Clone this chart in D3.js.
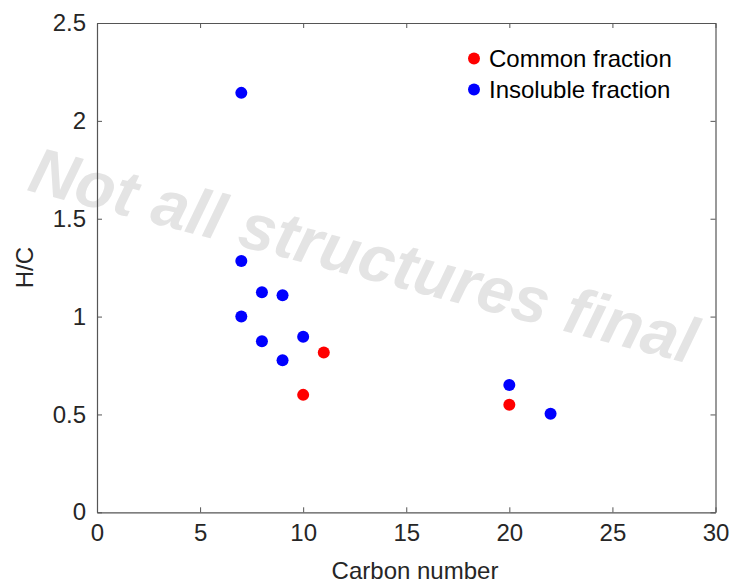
<!DOCTYPE html>
<html>
<head>
<meta charset="utf-8">
<script src="https://cdn.jsdelivr.net/npm/d3@7"></script>
<style>
  html, body { margin: 0; padding: 0; background: #fff; }
  svg { display: block; font-family: "Liberation Sans", Arial, Helvetica, sans-serif; }
</style>
</head>
<body>
<svg id="chart" width="734" height="585"></svg>
<script>
// ---- data ----
const commonX = [10, 11, 20];
const commonY = [0.60, 0.816, 0.549];
const insolubleX = [7, 7, 7, 8, 8, 9, 9, 10, 20, 22];
const insolubleY = [2.143, 1.284, 1.0, 1.124, 0.874, 1.109, 0.777, 0.897, 0.651, 0.503];
const xTicks = [0, 5, 10, 15, 20, 25, 30];
const yTicks = [0, 0.5, 1, 1.5, 2, 2.5];
const seriesNames = ["Common fraction", "Insoluble fraction"];
const seriesColors = ["#ff0000", "#0000ff"];
const xLabel = "Carbon number";
const yLabel = "H/C";
const watermark = "Not all structures final";

// ---- layout ----
const plotL = 97, plotR = 715.5, plotT = 23, plotB = 512.3;
const fs = 24;

const svg = d3.select("#chart");
const x = d3.scaleLinear().domain([0, 30]).range([plotL, plotR]);
const y = d3.scaleLinear().domain([0, 2.5]).range([plotB, plotT]);

// watermark (behind)
svg.append("text")
  .attr("transform", "translate(358,277) rotate(14.7)")
  .attr("text-anchor", "middle")
  .attr("font-size", 65)
  .attr("font-weight", "bold")
  .attr("font-style", "italic")
  .attr("fill", "#e4e4e4")
  .text(watermark);

const axisColor = "#555";
const labelColor = "#262626";
function styleAxis(g) {
  g.selectAll(".domain").attr("stroke", axisColor).attr("stroke-width", 1.2);
  g.selectAll(".tick line").attr("stroke", axisColor).attr("stroke-width", 1);
  g.selectAll(".tick text").attr("fill", labelColor).attr("font-size", fs)
    .attr("font-family", "'Liberation Sans', Arial, Helvetica, sans-serif");
}

// bottom
svg.append("g").attr("transform", `translate(0,${plotB})`)
  .call(d3.axisBottom(x).tickValues(xTicks).tickFormat(d3.format("d"))
    .tickSizeInner(-5).tickSizeOuter(0).tickPadding(12))
  .call(styleAxis);
// top
svg.append("g").attr("transform", `translate(0,${plotT})`)
  .call(d3.axisTop(x).tickValues(xTicks).tickFormat("")
    .tickSizeInner(-5).tickSizeOuter(0))
  .call(styleAxis);
// left
svg.append("g").attr("transform", `translate(${plotL},0)`)
  .call(d3.axisLeft(y).tickValues(yTicks).tickFormat(d => String(d))
    .tickSizeInner(-5).tickSizeOuter(0).tickPadding(11))
  .call(styleAxis);
// right
svg.append("g").attr("transform", `translate(${plotR},0)`)
  .call(d3.axisRight(y).tickValues(yTicks).tickFormat("")
    .tickSizeInner(-5).tickSizeOuter(0))
  .call(styleAxis);

// axis labels
svg.append("text")
  .attr("x", 415).attr("y", 579)
  .attr("text-anchor", "middle")
  .attr("font-size", fs).attr("fill", labelColor)
  .text(xLabel);
svg.append("text")
  .attr("transform", `translate(33,${(plotT + plotB) / 2}) rotate(-90)`)
  .attr("text-anchor", "middle")
  .attr("font-size", fs).attr("fill", labelColor)
  .text(yLabel);

// points
const common = commonX.map((d, i) => ({ x: d, y: commonY[i] }));
const insoluble = insolubleX.map((d, i) => ({ x: d, y: insolubleY[i] }));

svg.append("g").selectAll("circle").data(common).join("circle")
  .attr("cx", d => x(d.x)).attr("cy", d => y(d.y)).attr("r", 6)
  .attr("fill", seriesColors[0]);
svg.append("g").selectAll("circle").data(insoluble).join("circle")
  .attr("cx", d => x(d.x)).attr("cy", d => y(d.y)).attr("r", 6)
  .attr("fill", seriesColors[1]);

// legend
const legend = svg.append("g");
seriesNames.forEach((name, i) => {
  const yy = 58.5 + i * 31;
  legend.append("circle").attr("cx", 474).attr("cy", yy).attr("r", 6).attr("fill", seriesColors[i]);
  legend.append("text").attr("x", 489).attr("y", yy).attr("dy", "0.35em")
    .attr("font-size", fs).attr("fill", "#000").text(name);
});
</script>
</body>
</html>
